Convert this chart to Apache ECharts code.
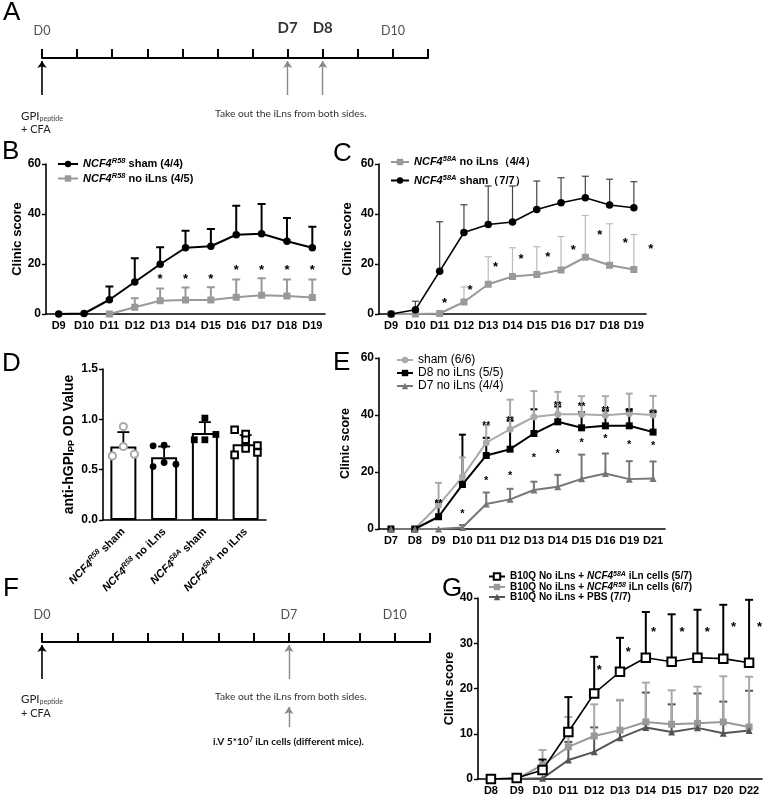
<!DOCTYPE html>
<html><head><meta charset="utf-8">
<script src="https://cdn.jsdelivr.net/npm/echarts@6/dist/echarts.min.js"></script>
<style>html,body{margin:0;padding:0;background:#fff}#c{width:764px;height:797px}</style>
</head><body><div id="c"></div>
<script>
// ---------- DATA ----------
const tlDaysA = [0, 7, 8, 10];
const tlLabelsA = ['D0', 'D7', 'D8', 'D10'];
const tlArrowsA = [0, 7, 8];
const tlDaysF = [0, 7, 10];
const tlLabelsF = ['D0', 'D7', 'D10'];
const tlArrowsF = [0, 7];

const daysB = ['D9','D10','D11','D12','D13','D14','D15','D16','D17','D18','D19'];
const bShamMean  = [0, 0.2, 5.7, 12.8, 19.9, 26.5, 27.1, 31.7, 32.1, 29.1, 26.5];
const bShamUpper = [null, null, 11, 22.3, 26.7, 33.3, 34, 43.3, 44, 38.4, 34.9];
const bNoMean    = [null, null, 0, 2.7, 5.3, 5.6, 5.6, 6.7, 7.5, 7.2, 6.6];
const bNoUpper   = [null, null, null, 6.3, 10.2, 10.6, 10.7, 13.8, 14.3, 13.8, 13.8];
const bStars     = [[4,15.2,0],[5,15.2,0],[6,15.2,0],[7,19,0],[8,19,0],[9,19,0],[10,19,0]];

const daysC = ['D9','D10','D11','D12','D13','D14','D15','D16','D17','D18','D19'];
const cShamMean  = [0, 1.7, 17.1, 32.6, 35.8, 36.8, 41.8, 44.5, 46.5, 43.6, 42.5];
const cShamUpper = [null, 5.1, 36.9, 43.7, 51.2, 51.2, 53.2, 54.5, 55.1, 53.9, 52.9];
const cNoMean    = [0, 0, 0.2, 4.8, 11.9, 15, 15.8, 17.6, 22.7, 19.5, 17.8];
const cNoUpper   = [null, null, null, 10.8, 22.9, 26.5, 26.9, 31, 39.4, 36.1, 31.8];
const cStars     = [[2,5.7,0.2],[3,11,0.25],[4,20.2,0.3],[5,23.3,0.35],[6,24.3,0.45],[7,26.9,0.5],[8,32.9,0.6],[9,29.7,0.65],[10,27.4,0.7]];

const dCats   = ['NCF4R58 sham', 'NCF4R58 no iLns', 'NCF458A sham', 'NCF458A no iLns'];
const dGene   = ['R58', 'R58', '58A', '58A'];
const dCond   = ['sham', 'no iLns', 'sham', 'no iLns'];
const dMean   = [0.73, 0.624, 0.863, 0.753];
const dUpper  = [0.873, 0.73, 0.972, 0.843];
const dPts0   = [0.929, 0.637, 0.73, 0.654];
const dOff0   = [0, -0.27, 0, 0.27];
const dPts1   = [0.737, 0.743, 0.531, 0.571, 0.554];
const dOff1   = [-0.27, 0, -0.27, 0, 0.29];
const dPts2   = [1.012, 0.797, 0.797, 0.85];
const dOff2   = [0, -0.26, 0, 0.27];
const dPts3   = [0.896, 0.853, 0.797, 0.71, 0.647, 0.74, 0.67];
const dOff3   = [-0.27, 0, 0, 0, -0.27, 0.29, 0.29];

const daysE = ['D7','D8','D9','D10','D11','D12','D13','D14','D15','D16','D19','D21'];
const eShamMean  = [0, 0, 8.4, 18.3, 30.3, 35, 39.3, 40.3, 40.3, 39.9, 40.5, 40];
const eShamUpper = [null, null, 16.2, 25.1, 36.4, 45.4, 48.4, 48.1, 46.6, 46.6, 47.5, 46.7];
const eD8Mean    = [0, 0, 4.3, 15.6, 25.8, 28, 33.5, 37.6, 35.5, 36.2, 36.2, 34];
const eD8Upper   = [null, null, 9.5, 33.1, 32, 38, 42, 43, 41, 41.5, 42, 41];
const eD7Mean    = [0, 0, 0, 0.5, 8.8, 10.4, 13.7, 14.8, 17.6, 19.5, 17.5, 17.7];
const eD7Upper   = [null, null, null, 1.4, 12.8, 14.1, 16.6, 19, 26.1, 26.5, 23.8, 23.7];
const eStars2    = [[2,9.6,0],[4,37.2,0],[5,38.7,0],[7,44.2,0],[8,43.6,0],[9,42.2,0],[10,41.7,0],[11,41.3,0]];
const eStars1    = [[3,6.4,0],[4,18.1,0],[5,19.8,0],[6,26.1,0],[7,27.4,0],[8,31.2,0],[9,32.6,0],[10,30.7,0],[11,30.3,0]];

const daysG = ['D8','D9','D10','D11','D12','D13','D14','D15','D17','D20','D22'];
const g58Mean  = [0, 0.2, 2, 10.4, 18.9, 23.7, 26.8, 25.9, 26.8, 26.6, 25.7];
const g58Upper = [null, null, 4.3, 18.1, 27, 31.2, 36.9, 36.4, 37.4, 38.5, 39.6];
const gR58Mean  = [0, 0, 3.1, 7.1, 9.5, 10.8, 12.6, 12.1, 12.3, 12.6, 11.5];
const gR58Upper = [null, null, 6.4, 13.7, 16.5, 17.5, 21.3, 19.6, 20.4, 22.7, 22.6];
const gPbsMean  = [0, 0, 0.15, 4.2, 6, 9.1, 11.4, 10.4, 11.3, 10.1, 10.7];
const gPbsUpper = [null, null, null, 8.2, 11.4, 17.4, 19.1, 16.5, 18.9, 17.1, 19.5];
const gStars    = [[4,24.8,0.2],[5,28.8,0.32],[6,33.2,0.3],[7,33.2,0.4],[8,33.2,0.38],[9,34.3,0.4],[10,34.3,0.4]];

// ---------- STYLE HELPERS ----------
const FF = '"Liberation Sans", Arial, sans-serif';
const TF = 'Lato, "Open Sans", sans-serif';

function catX(i, cats, extra) {
  return Object.assign({
    type: 'category', gridIndex: i, data: cats, boundaryGap: true,
    axisLine: {lineStyle: {color: '#000', width: 1.6}},
    axisTick: {alignWithLabel: true, length: 4, lineStyle: {color: '#000', width: 1.4}},
    axisLabel: {interval: 0, color: '#000', fontFamily: FF, fontWeight: 'bold', fontSize: 11, margin: 6},
    splitLine: {show: false}
  }, extra || {});
}
function valY(i, min, max, interval, name, extra) {
  return Object.assign({
    type: 'value', gridIndex: i, min, max, interval,
    name, nameLocation: 'middle', nameGap: 24,
    nameTextStyle: {color: '#000', fontFamily: FF, fontWeight: 'bold', fontSize: 13},
    axisLine: {show: true, lineStyle: {color: '#000', width: 1.6}},
    axisTick: {show: true, length: 4, lineStyle: {color: '#000', width: 1.4}},
    axisLabel: {color: '#000', fontFamily: FF, fontWeight: 'bold', fontSize: 12, margin: 5},
    splitLine: {show: false}
  }, extra || {});
}
function tlX(i) {
  return {type: 'value', gridIndex: i, min: 0, max: 11, interval: 1,
    axisLine: {onZero: true, lineStyle: {color: '#000', width: 2}},
    axisTick: {inside: true, length: 9, lineStyle: {color: '#000', width: 2}},
    axisLabel: {show: false}, splitLine: {show: false}};
}
function tlY(i, min, max) {
  return {type: 'value', gridIndex: i, min, max, show: false, splitLine: {show: false}};
}

function lineS(name, xi, data, color, symbol, size, lw, extra) {
  return Object.assign({
    type: 'line', name, xAxisIndex: xi, yAxisIndex: xi, data, symbol, symbolSize: size,
    showSymbol: true, silent: true, z: 4,
    lineStyle: {color, width: lw},
    itemStyle: {color, borderWidth: 0}
  }, extra || {});
}
function errS(xi, mean, upper, color, w, cap, z) {
  const data = [];
  upper.forEach((u, i) => { if (u != null && mean[i] != null) data.push([i, mean[i], u]); });
  return {
    type: 'custom', xAxisIndex: xi, yAxisIndex: xi, silent: true, z: z || 2, data,
    encode: {x: 0, y: [1, 2]},
    renderItem(params, api) {
      const p0 = api.coord([api.value(0), api.value(1)]);
      const p1 = api.coord([api.value(0), api.value(2)]);
      const st = {stroke: color, lineWidth: w};
      return {type: 'group', children: [
        {type: 'line', shape: {x1: p0[0], y1: p0[1], x2: p1[0], y2: p1[1]}, style: st},
        {type: 'line', shape: {x1: p1[0] - cap / 2, y1: p1[1], x2: p1[0] + cap / 2, y2: p1[1]}, style: st}
      ]};
    }
  };
}
function starS(xi, pts, txt, size) {
  return {
    type: 'custom', xAxisIndex: xi, yAxisIndex: xi, silent: true, z: 6,
    data: pts, encode: {x: 0, y: 1},
    renderItem(params, api) {
      const p = api.coord([api.value(0), api.value(1)]);
      const bw = api.size([1, 0])[0];
      return {type: 'text', style: {
        text: txt, x: p[0] + api.value(2) * bw, y: p[1] + size * 0.3,
        align: 'center', verticalAlign: 'middle', textAlign: 'center', textVerticalAlign: 'middle',
        fill: '#000', font: 'bold ' + size + 'px ' + FF
      }};
    }
  };
}
function dotS(cat, vals, offs, kind) {
  const data = vals.map((v, k) => [cat, v, offs[k]]);
  return {
    type: 'custom', xAxisIndex: 3, yAxisIndex: 3, silent: true, z: 5, data,
    encode: {x: 0, y: 1},
    renderItem(params, api) {
      const p = api.coord([api.value(0), api.value(1)]);
      const bw = api.size([1, 0])[0];
      const x = p[0] + api.value(2) * bw, y = p[1];
      if (kind === 'openCircle') return {type: 'circle', shape: {cx: x, cy: y, r: 3.6}, style: {fill: '#fff', stroke: '#aaa', lineWidth: 2}};
      if (kind === 'dot') return {type: 'circle', shape: {cx: x, cy: y, r: 3.4}, style: {fill: '#000'}};
      if (kind === 'square') return {type: 'rect', shape: {x: x - 3.4, y: y - 3.4, width: 6.8, height: 6.8}, style: {fill: '#000'}};
      return {type: 'rect', shape: {x: x - 3.3, y: y - 3.3, width: 6.6, height: 6.6}, style: {fill: '#fff', stroke: '#000', lineWidth: 2}};
    }
  };
}
function tlSeries(xi, days, labels, arrows, yLab, boldSet, extraArrow) {
  const data = days.map((d, k) => {
    const b = boldSet.indexOf(labels[k]) >= 0;
    return {value: [d, b ? yLab + 0.3 : yLab], name: labels[k],
      label: {fontWeight: b ? 'bold' : 'normal', fontSize: b ? 15 : 12.5, color: b ? '#000' : '#222'}};
  });
  const ml = arrows.map(d => [{coord: [d, -3.7], lineStyle: {color: d === 0 ? '#000' : '#888', width: d === 0 ? 1.6 : 1.4}}, {coord: [d, -0.3]}]);
  if (extraArrow) ml.push(extraArrow);
  return {
    type: 'scatter', xAxisIndex: xi, yAxisIndex: xi, symbolSize: 1, itemStyle: {color: 'rgba(0,0,0,0)'},
    silent: true, data,
    label: {show: true, position: 'inside', formatter: '{b}', fontFamily: TF},
    markLine: {silent: true, symbol: ['none', 'arrow'], symbolSize: 7, animation: false,
      label: {show: false}, lineStyle: {type: 'solid'}, data: ml}
  };
}

const legRich = {
  i: {fontFamily: FF, fontStyle: 'italic', fontWeight: 'bold', fontSize: 11, color: '#000', lineHeight: 14},
  s: {fontFamily: FF, fontStyle: 'italic', fontWeight: 'bold', fontSize: 7.5, color: '#000', verticalAlign: 'top', lineHeight: 14},
  b: {fontFamily: FF, fontWeight: 'bold', fontSize: 11, color: '#000', lineHeight: 14}
};
const legRichG = {
  i: {fontFamily: FF, fontStyle: 'italic', fontWeight: 'bold', fontSize: 10, color: '#000', lineHeight: 11},
  s: {fontFamily: FF, fontStyle: 'italic', fontWeight: 'bold', fontSize: 7, color: '#000', verticalAlign: 'top', lineHeight: 11},
  b: {fontFamily: FF, fontWeight: 'bold', fontSize: 10, color: '#000', lineHeight: 11}
};
const legNames = {
  bSham: '{i|NCF4}{s|R58}{b| sham (4/4)}',
  bNo: '{i|NCF4}{s|R58}{b| no iLns (4/5)}',
  cNo: '{i|NCF4}{s|58A}{b| no iLns（4/4）}',
  cSham: '{i|NCF4}{s|58A}{b| sham（7/7）}',
  g58: '{b|B10Q No iLns + }{i|NCF4}{s|58A}{b| iLn cells (5/7)}',
  gR58: '{b|B10Q No iLns + }{i|NCF4}{s|R58}{b| iLn cells (6/7)}',
  gPbs: '{b|B10Q No iLns + PBS (7/7)}'
};
const eNames = {eSham: 'sham (6/6)', eD8: 'D8 no iLns (5/5)', eD7: 'D7 no iLns (4/4)'};

// ---------- OPTION ----------
const option = {
  animation: false,
  backgroundColor: '#fff',
  grid: [
    {left: 42, top: 23, width: 386, height: 75},
    {left: 46, top: 164, width: 279, height: 150},
    {left: 379, top: 164, width: 267, height: 150},
    {left: 103, top: 369, width: 163, height: 151},
    {left: 379, top: 358, width: 286, height: 171},
    {left: 42, top: 607, width: 388, height: 125},
    {left: 478, top: 598, width: 284, height: 181}
  ],
  xAxis: [
    tlX(0),
    catX(1, daysB),
    catX(2, daysC),
    catX(3, dCats, {axisLabel: {interval: 0, rotate: 45, margin: 10, color: '#000',
      formatter: (v) => { const k = dCats.indexOf(v); return '{i|NCF4}{s|' + dGene[k] + '}{b| ' + dCond[k] + '}'; },
      rich: legRich}}),
    catX(4, daysE),
    tlX(5),
    catX(6, daysG)
  ],
  yAxis: [
    tlY(0, -4, 3.5),
    valY(1, 0, 60, 20, 'Clinic score', {nameGap: 22}),
    valY(2, 0, 60, 20, 'Clinic score', {nameGap: 25}),
    valY(3, 0, 1.5, 0.5, 'anti-hGPI{sub|PP} OD Value', {
      nameGap: 27,
      axisLabel: {color: '#000', fontFamily: FF, fontWeight: 'bold', fontSize: 12, margin: 5, formatter: v => v.toFixed(1)},
      nameTextStyle: {color: '#000', fontFamily: FF, fontWeight: 'bold', fontSize: 14,
        rich: {sub: {fontFamily: FF, fontWeight: 'bold', fontSize: 9, verticalAlign: 'bottom', color: '#000'}}}
    }),
    valY(4, 0, 60, 20, 'Clinic score', {nameGap: 27, nameTextStyle: {color: '#000', fontFamily: FF, fontWeight: 'bold', fontSize: 12.5}}),
    tlY(5, -9, 3.5),
    valY(6, 0, 40, 10, 'Clinic score', {nameGap: 20, nameTextStyle: {color: '#000', fontFamily: FF, fontWeight: 'bold', fontSize: 13}})
  ],
  legend: [
    {data: ['bSham', 'bNo'], orient: 'vertical', left: 52, top: 152, itemGap: 2, itemWidth: 20, itemHeight: 8,
      formatter: n => legNames[n], textStyle: {rich: legRich}, selectedMode: false},
    {data: ['cNo', 'cSham'], orient: 'vertical', left: 385, top: 150, itemGap: 6, itemWidth: 18, itemHeight: 8,
      formatter: n => legNames[n], textStyle: {rich: legRich}, selectedMode: false},
    {data: ['eSham', 'eD8', 'eD7'], orient: 'vertical', left: 391, top: 349, itemGap: 1, itemWidth: 16, itemHeight: 8,
      formatter: n => eNames[n], textStyle: {fontFamily: FF, fontSize: 12, color: '#000'}, selectedMode: false},
    {data: ['g58', 'gR58', 'gPbs'], orient: 'vertical', left: 483, top: 566, itemGap: 0, itemWidth: 16, itemHeight: 8,
      formatter: n => legNames[n], textStyle: {rich: legRichG}, selectedMode: false}
  ],
  series: [
    // Timeline A
    tlSeries(0, tlDaysA, tlLabelsA, tlArrowsA, 2.7, ['D7', 'D8'], null),
    // B
    errS(1, bNoMean, bNoUpper, '#999', 2, 8, 2),
    errS(1, bShamMean, bShamUpper, '#000', 2, 8, 2),
    lineS('bSham', 1, bShamMean, '#000', 'circle', 7.5, 2),
    lineS('bNo', 1, bNoMean, '#999', 'rect', 7, 2, {z: 3}),
    starS(1, bStars, '*', 13),
    // C
    errS(2, cNoMean, cNoUpper, '#bbb', 1.2, 7, 2),
    errS(2, cShamMean, cShamUpper, '#444', 1.2, 7, 2),
    lineS('cNo', 2, cNoMean, '#999', 'rect', 7, 2, {z: 3}),
    lineS('cSham', 2, cShamMean, '#000', 'circle', 7.5, 1.5),
    starS(2, cStars, '*', 13),
    // D
    {type: 'bar', xAxisIndex: 3, yAxisIndex: 3, data: dMean, barWidth: 26, silent: true, z: 2,
      itemStyle: {color: '#fff', borderColor: '#000', borderWidth: 2}},
    errS(3, dMean, dUpper, '#000', 1.8, 12, 3),
    dotS(0, dPts0, dOff0, 'openCircle'),
    dotS(1, dPts1, dOff1, 'dot'),
    dotS(2, dPts2, dOff2, 'square'),
    dotS(3, dPts3, dOff3, 'openSquare'),
    // E
    errS(4, eD8Mean, eD8Upper, '#000', 2, 7, 1),
    errS(4, eD7Mean, eD7Upper, '#777', 2, 7, 2),
    errS(4, eShamMean, eShamUpper, '#aaa', 2, 7, 2),
    lineS('eSham', 4, eShamMean, '#aaa', 'circle', 7, 2, {z: 3}),
    lineS('eD8', 4, eD8Mean, '#000', 'rect', 7, 2, {z: 4}),
    lineS('eD7', 4, eD7Mean, '#777', 'triangle', 7, 2, {z: 4}),
    starS(4, eStars2, '**', 10),
    starS(4, eStars1, '*', 11),
    // Timeline F
    tlSeries(5, tlDaysF, tlLabelsF, tlArrowsF, 2.7, [], [{coord: [7, -8.5], lineStyle: {color: '#888', width: 1.4}}, {coord: [7, -6.5]}]),
    // G
    errS(6, gPbsMean, gPbsUpper, '#555', 2, 8, 1),
    errS(6, gR58Mean, gR58Upper, '#aaa', 2, 8, 2),
    errS(6, g58Mean, g58Upper, '#000', 2, 8, 2),
    lineS('g58', 6, g58Mean, '#000', 'rect', 8.5, 1.6, {z: 5, itemStyle: {color: '#fff', borderColor: '#000', borderWidth: 2}}),
    lineS('gR58', 6, gR58Mean, '#999', 'rect', 7, 2, {z: 4}),
    lineS('gPbs', 6, gPbsMean, '#555', 'triangle', 7, 2, {z: 4}),
    starS(6, gStars, '*', 13)
  ],
  graphic: [
    {type: 'text', left: 3, top: 0, style: {text: 'A', font: '26px ' + FF, fill: '#000'}},
    {type: 'text', left: 2, top: 139, style: {text: 'B', font: '26px ' + FF, fill: '#000'}},
    {type: 'text', left: 333, top: 141, style: {text: 'C', font: '26px ' + FF, fill: '#000'}},
    {type: 'text', left: 2, top: 351, style: {text: 'D', font: '26px ' + FF, fill: '#000'}},
    {type: 'text', left: 333, top: 350, style: {text: 'E', font: '26px ' + FF, fill: '#000'}},
    {type: 'text', left: 3, top: 576, style: {text: 'F', font: '26px ' + FF, fill: '#000'}},
    {type: 'text', left: 442, top: 576, style: {text: 'G', font: '26px ' + FF, fill: '#000'}},
    {type: 'text', left: 21, top: 110, style: {text: 'GPI{sub|peptide}', font: '11.5px ' + TF, fill: '#222',
      rich: {sub: {fontFamily: TF, fontSize: 7, fill: '#444', verticalAlign: 'bottom', padding: [5, 0, 0, 0]}}}},
    {type: 'text', left: 21, top: 124, style: {text: '+ CFA', font: '11px ' + TF, fill: '#222'}},
    {type: 'text', left: 215, top: 109, style: {text: 'Take out the iLns from both sides.', font: '10.3px ' + TF, fill: '#333'}},
    {type: 'text', left: 21, top: 693, style: {text: 'GPI{sub|peptide}', font: '11.5px ' + TF, fill: '#222',
      rich: {sub: {fontFamily: TF, fontSize: 7, fill: '#444', verticalAlign: 'bottom', padding: [5, 0, 0, 0]}}}},
    {type: 'text', left: 21, top: 708, style: {text: '+ CFA', font: '11px ' + TF, fill: '#222'}},
    {type: 'text', left: 215, top: 692, style: {text: 'Take out the iLns from both sides.', font: '10.3px ' + TF, fill: '#333'}},
    {type: 'text', left: 213, top: 736, style: {text: 'i.V 5*10{sup|7} iLn cells (different mice).', font: 'bold 10.2px ' + TF, fill: '#111',
      rich: {sup: {fontFamily: TF, fontWeight: 'bold', fontSize: 6.5, fill: '#111', verticalAlign: 'top', padding: [0, 0, 4, 0]}}}}
  ]
};

const chart = echarts.init(document.getElementById('c'), null, {renderer: 'canvas'});
chart.setOption(option);
</script>
</body></html>
